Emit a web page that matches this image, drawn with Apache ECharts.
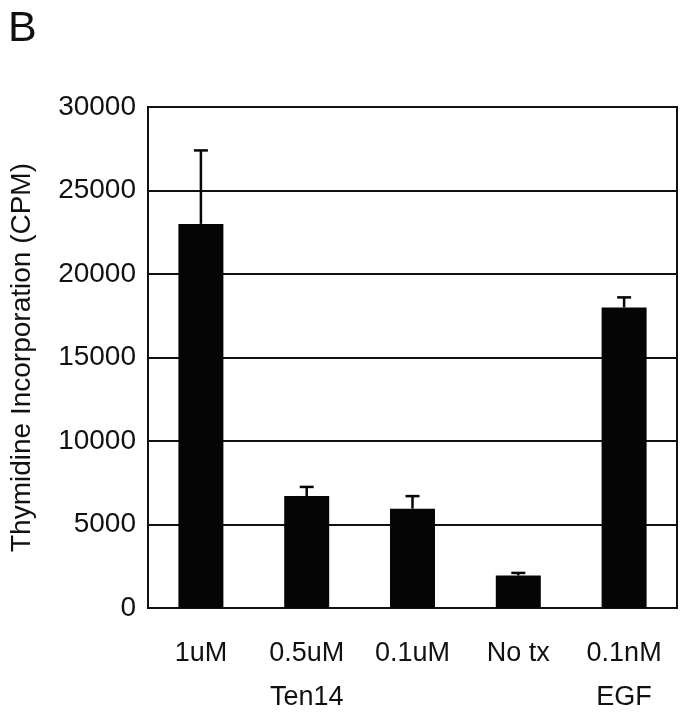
<!DOCTYPE html>
<html>
<head>
<meta charset="utf-8">
<script src="https://cdn.jsdelivr.net/npm/echarts@6/dist/echarts.min.js"></script>
<style>
    html, body { margin: 0; padding: 0; background: #fff; }
    #chart { width: 682px; height: 720px; }
</style>
</head>
<body>
<div id="chart"></div>
<script>
// categories (second line = group name)
var categories = ['1uM', '0.5uM\nTen14', '0.1uM', 'No tx', '0.1nM\nEGF'];
// mean CPM
var means = [23000, 6700, 5950, 1950, 18000];
// upper end of the error bar
var upper = [27400, 7250, 6700, 2100, 18600];
var yTicks = [0, 5000, 10000, 15000, 20000, 25000, 30000];

var font = '"Liberation Sans", Arial, Helvetica, sans-serif';
var ink = '#111';

var errData = [];
for (var i = 0; i < categories.length; i++) {
    errData.push([i, means[i], upper[i]]);
}

var myChart = echarts.init(document.getElementById('chart'));
var option = {
    backgroundColor: '#fff',
    animation: false,
    title: {
        text: 'B',
        left: 3,
        top: 3,
        textStyle: { fontFamily: font, fontSize: 43, fontWeight: 'normal', color: ink }
    },
    grid: {
        left: 148,
        right: 5,
        top: 107,
        bottom: 103,
        show: true,
        borderColor: ink,
        borderWidth: 2
    },
    xAxis: {
        type: 'category',
        data: categories,
        axisLine: { lineStyle: { color: ink, width: 2 } },
        axisTick: { show: false },
        axisLabel: {
            margin: 24,
            fontFamily: font,
            fontSize: 27,
            color: ink,
            lineHeight: 44
        }
    },
    yAxis: {
        type: 'value',
        min: yTicks[0],
        max: yTicks[yTicks.length - 1],
        interval: 5000,
        name: 'Thymidine Incorporation (CPM)',
        nameLocation: 'middle',
        nameGap: 112,
        nameTextStyle: { fontFamily: font, fontSize: 28, color: ink },
        axisLine: { show: true, lineStyle: { color: ink, width: 2 } },
        axisTick: { show: false },
        axisLabel: {
            margin: 12,
            fontFamily: font,
            fontSize: 28,
            color: ink,
            formatter: function (v) { return String(v); }
        },
        splitLine: { lineStyle: { color: ink, width: 2 } }
    },
    series: [
        {
            type: 'bar',
            data: means,
            barWidth: 45,
            itemStyle: { color: '#050505' },
            z: 3
        },
        {
            type: 'custom',
            data: errData,
            z: 4,
            renderItem: function (params, api) {
                var x = api.value(0);
                var base = api.coord([x, api.value(1)]);
                var top = api.coord([x, api.value(2)]);
                var half = 7;
                var st = { stroke: '#050505', lineWidth: 2.5 };
                return {
                    type: 'group',
                    children: [
                        { type: 'line', shape: { x1: base[0], y1: base[1], x2: top[0], y2: top[1] }, style: st },
                        { type: 'line', shape: { x1: top[0] - half, y1: top[1], x2: top[0] + half, y2: top[1] }, style: st }
                    ]
                };
            }
        }
    ]
};
myChart.setOption(option);
</script>
</body>
</html>
